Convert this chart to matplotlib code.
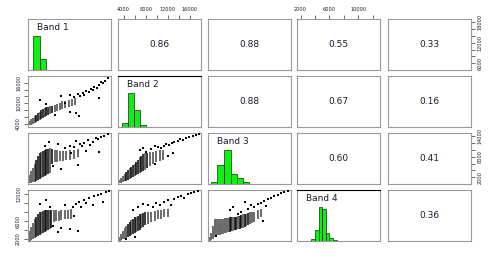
import matplotlib.pyplot as plt
from matplotlib.ticker import FixedLocator

# value range of each band (used for both x and y)
band_names = ["Band 1", "Band 2", "Band 3", "Band 4"]
band_lims = [(4000, 19000), (3000, 18000), (0, 15000), (1500, 13000)]

# histograms on the diagonal: bin edges and relative heights
hist_edges = [
    [4000, 4900, 6100, 7300],
    [3700, 4800, 5900, 7000, 8000],
    [500, 1700, 2900, 4100, 5200, 6300, 7400],
    [3500, 4000, 4500, 5000, 5500, 6000, 6500, 7000],
]
hist_heights = [
    [0.01, 1.0, 0.32],
    [0.12, 1.0, 0.5, 0.06],
    [0.06, 0.57, 1.0, 0.29, 0.17, 0.06],
    [0.06, 0.32, 1.0, 0.94, 0.24, 0.09, 0.03],
]

# correlations in the upper panels, (row, col) -> text
corr = {(0, 1): "0.86", (0, 2): "0.88", (0, 3): "0.55", (0, 4): "0.33",
        (1, 2): "0.88", (1, 3): "0.67", (1, 4): "0.16",
        (2, 3): "0.60", (2, 4): "0.41",
        (3, 4): "0.36"}

# scatter panels: dense vertical streaks (x, y_low, y_high, dense) and loose points (x, y)
stripes_21 = [(4300, 3450, 4800, 0), (4600, 3600, 5250, 0), (4900, 3750, 5700, 0),
              (5200, 4050, 6150, 0), (5500, 4350, 6600, 1), (5800, 4650, 7050, 1),
              (6100, 4950, 7500, 0), (6400, 5250, 7950, 1), (6700, 5550, 8250, 1),
              (7000, 5850, 8550, 0), (7300, 6150, 8850, 1), (7600, 6450, 9000, 1),
              (7900, 6750, 9150, 0), (8350, 7200, 9300, 1), (8800, 7500, 9600, 0),
              (9250, 7650, 9900, 0), (9700, 7950, 10200, 0), (10150, 8250, 10500, 0),
              (10750, 8550, 10650, 0), (11350, 8850, 10950, 0), (11950, 9300, 11250, 0),
              (12550, 9600, 11550, 0)]
points_21 = [(6100, 10800), (7300, 9750), (8800, 6600), (10000, 12000), (11500, 12300),
             (12250, 11700), (13000, 12600), (13450, 12000), (13900, 12900), (14500, 13500),
             (14950, 13200), (15400, 14100), (16000, 14700), (16450, 14400), (16900, 15300),
             (17500, 15900), (17950, 16500), (18400, 17400), (16750, 11400), (12700, 7200),
             (13300, 6300), (11500, 7500), (10600, 10200), (14200, 12300), (15700, 13800),
             (17200, 16200)]

stripes_31 = [(4300, 150, 2700, 0), (4600, 300, 3750, 0), (4900, 450, 4800, 0),
              (5200, 600, 6000, 0), (5500, 900, 7200, 1), (5800, 1200, 8250, 1),
              (6100, 1500, 9000, 1), (6400, 1800, 9450, 0), (6700, 2100, 9750, 1),
              (7000, 2400, 10050, 1), (7300, 2700, 10200, 1), (7600, 3000, 10350, 1),
              (7900, 3300, 10500, 0), (8350, 6000, 10200, 1), (8800, 6450, 9900, 0),
              (9250, 6600, 9900, 0), (9700, 6750, 9750, 0), (10300, 6900, 9600, 0),
              (10900, 7050, 9750, 0), (11500, 7200, 9900, 0), (12250, 7500, 10050, 0),
              (13000, 7800, 10200, 0)]
points_31 = [(7000, 11250), (7750, 12300), (8500, 5250), (10000, 4500), (10750, 10500),
             (11500, 11100), (11800, 9000), (12400, 10800), (13000, 5700), (13450, 11700),
             (13750, 11100), (14200, 12000), (14800, 12900), (15250, 11400), (15700, 12300),
             (16300, 13500), (16900, 9300), (17200, 13800), (17800, 14250), (18400, 14700),
             (16600, 13200), (14500, 9600), (9400, 11700), (12700, 12600)]

stripes_32 = [(3300, 150, 1200, 0), (3600, 300, 1800, 0), (3900, 450, 2400, 0),
              (4200, 750, 3000, 0), (4500, 900, 3600, 1), (4800, 1200, 4200, 1),
              (5100, 1500, 4650, 0), (5400, 1800, 5100, 1), (5700, 2100, 5550, 1),
              (6000, 2400, 6000, 0), (6300, 2700, 6600, 1), (6600, 3000, 7200, 1),
              (6900, 3300, 7800, 0), (7200, 3600, 8250, 1), (7500, 3900, 8700, 1),
              (7800, 4200, 9000, 0), (8250, 4800, 9000, 1), (8700, 5400, 9300, 0),
              (9300, 6000, 9450, 0), (9900, 6450, 9600, 0), (10500, 6750, 9900, 0),
              (11100, 7200, 10050, 0)]
points_32 = [(6900, 9900), (7500, 10500), (8100, 9300), (9000, 10200), (9600, 11100),
             (10200, 10800), (10800, 10500), (11250, 11250), (11700, 11700), (12300, 11400),
             (12750, 12000), (13200, 12300), (13800, 12600), (14250, 13200), (14700, 12900),
             (15300, 13500), (15900, 13800), (16500, 14100), (17100, 14400), (17550, 14700),
             (12000, 8250), (12900, 9000), (9750, 6000)]

stripes_41 = [(4300, 1600, 3800, 0), (4600, 1750, 4700, 0), (4900, 1850, 5650, 0),
              (5200, 2100, 6350, 0), (5500, 2300, 7000, 1), (5800, 2550, 7500, 1),
              (6100, 2900, 7950, 1), (6400, 3100, 8150, 0), (6700, 3350, 8300, 1),
              (7000, 3550, 8400, 1), (7300, 3800, 8400, 1), (7600, 4050, 8500, 1),
              (7900, 4250, 8500, 0), (8200, 4500, 8400, 1), (8650, 5850, 8400, 0),
              (9100, 6100, 8400, 0), (9550, 6100, 8300, 0), (10000, 6200, 8400, 0),
              (10600, 6350, 8400, 0), (11200, 6450, 8500, 0), (11800, 6550, 8650, 0)]
points_41 = [(6100, 9800), (7300, 10700), (7900, 9100), (8500, 4950), (9400, 3550),
             (10000, 4400), (10600, 9550), (11500, 4250), (12100, 9100), (12700, 9800),
             (13000, 3800), (13300, 10250), (13600, 9100), (14200, 10700), (14500, 10000),
             (15100, 11150), (15700, 9550), (16000, 11600), (16600, 11850), (17200, 12100),
             (17500, 10250), (18100, 12550), (18700, 12750), (12400, 7250)]

stripes_42 = [(3300, 1600, 2400, 0), (3600, 1750, 3100, 0), (3900, 1850, 3800, 0),
              (4200, 1950, 4400, 0), (4500, 2200, 4950, 0), (4800, 2400, 5400, 1),
              (5100, 2650, 5850, 1), (5400, 2900, 6200, 0), (5700, 3000, 6550, 1),
              (6000, 3250, 6800, 1), (6300, 3450, 7000, 0), (6600, 3700, 7250, 1),
              (6900, 4050, 7500, 1), (7200, 4400, 7700, 0), (7500, 4700, 7800, 1),
              (7950, 5050, 7950, 1), (8400, 5400, 8050, 0), (9000, 5850, 8150, 0),
              (9600, 6100, 8300, 0), (10200, 6350, 8400, 0), (10800, 6550, 8500, 0),
              (11400, 6800, 8650, 0), (12000, 7000, 8750, 0)]
points_42 = [(5700, 8400), (6600, 9100), (7500, 9800), (8400, 9550), (9300, 9100),
             (9900, 10000), (10500, 9550), (11250, 10250), (12000, 10700), (12600, 9550),
             (13200, 10950), (13800, 11400), (14400, 11600), (15000, 11150), (15600, 12100),
             (16200, 12300), (16800, 12550), (17400, 12750), (6000, 2400), (4500, 1950)]

stripes_43 = [(300, 1600, 2400, 0), (600, 1750, 3250, 0), (900, 1950, 4950, 0),
              (1200, 2300, 6350, 0), (1500, 2650, 6450, 0), (1800, 2750, 6450, 0),
              (2100, 2900, 6550, 0), (2400, 3000, 6550, 0), (2700, 3100, 6550, 0),
              (3000, 3250, 6650, 0), (3300, 3350, 6650, 0), (3600, 3450, 6650, 0),
              (3900, 3550, 6800, 1), (4200, 3700, 6800, 1), (4500, 3800, 6900, 0),
              (4800, 3900, 7000, 1), (5100, 4050, 7000, 1), (5400, 4150, 7150, 0),
              (5700, 4250, 7250, 1), (6000, 4400, 7350, 1), (6300, 4500, 7500, 0),
              (6600, 4700, 7600, 1), (6900, 4950, 7700, 0), (7200, 5200, 7800, 1),
              (7500, 5400, 7950, 0), (7950, 5650, 8050, 0), (8400, 5850, 8150, 0),
              (9000, 6350, 8400, 0), (9600, 7000, 8650, 0)]
points_43 = [(1500, 2650), (3900, 8400), (4500, 9100), (5400, 7700), (6000, 8150),
             (6600, 10250), (7200, 8650), (7800, 9550), (8400, 9100), (9000, 9800),
             (9600, 10000), (10200, 10450), (10500, 9300), (10800, 10950), (11400, 11150),
             (12000, 11600), (12600, 11850), (13200, 12300), (13800, 12550), (14400, 12750),
             (9900, 6100)]

scatter_panels = {(1, 0): (stripes_21, points_21), (2, 0): (stripes_31, points_31),
                  (2, 1): (stripes_32, points_32), (3, 0): (stripes_41, points_41),
                  (3, 1): (stripes_42, points_42), (3, 2): (stripes_43, points_43)}

# outer axes: (row, col, side, major ticks with labels, all tick marks)
outer_axes = [
    (0, 1, "top", [4000, 8000, 12000, 16000], range(4000, 16001, 2000)),
    (0, 3, "top", [2000, 6000, 10000], range(2000, 12001, 2000)),
    (0, 4, "right", [6000, 12000, 18000], range(6000, 18001, 2000)),
    (1, 0, "left", [4000, 10000, 16000], range(4000, 16001, 2000)),
    (2, 4, "right", [2000, 8000, 14000], range(2000, 14001, 2000)),
    (3, 0, "left", [2000, 6000, 12000], range(2000, 12001, 2000)),
]

W, H = 492, 258
col_left = [28, 118, 208, 297, 388]
row_top = [19, 76, 133, 190]
pw, ph = 83, 51
txt = "#1a1a33"

fig = plt.figure(figsize=(W / 100, H / 100), dpi=100)
axes = {}
for r in range(4):
    for c in range(5):
        ax = fig.add_axes([col_left[c] / W, 1 - (row_top[r] + ph) / H, pw / W, ph / H])
        ax.set_xticks([])
        ax.set_yticks([])
        for s in ax.spines.values():
            s.set_color("#999999")
            s.set_linewidth(0.8)
        axes[(r, c)] = ax
        if r == c:
            ax.set_xlim(band_lims[c])
            ax.set_ylim(0, 1.5)
            e = hist_edges[c]
            ax.bar(e[:-1], hist_heights[c], width=[b - a for a, b in zip(e[:-1], e[1:])],
                   align="edge", color="#11ee11", edgecolor="#003300", linewidth=0.5)
            ax.text(0.11, 0.84, band_names[c], transform=ax.transAxes, fontsize=6.5,
                    ha="left", va="center", color=txt)
        elif c > r:
            ax.text(0.5, 0.5, corr[(r, c)], transform=ax.transAxes, fontsize=6.5,
                    ha="center", va="center", color=txt)
            if c < 4:
                ax.set_xlim(band_lims[c])
            ax.set_ylim(band_lims[r])
        else:
            ax.set_xlim(band_lims[c])
            ax.set_ylim(band_lims[r])
            stripes, pts = scatter_panels[(r, c)]
            for x, lo, hi, dense in stripes:
                if dense:
                    ax.vlines(x, lo, hi, colors="#0a0a0a", linewidth=1.15, zorder=3)
                else:
                    ax.vlines(x, lo, hi, colors="#6a6a6a", linewidth=1.4, zorder=2)
            ax.scatter([p[0] for p in pts], [p[1] for p in pts], s=0.8, marker="s",
                       color="black", linewidths=0, zorder=4)

axes[(1, 1)].spines["top"].set_color("black")
axes[(3, 3)].spines["top"].set_color("black")

for r, c, side, major, allt in outer_axes:
    ax = axes[(r, c)]
    if side == "top":
        ax.set_xlim(band_lims[c])
        ax.xaxis.set_ticks_position("top")
        ax.set_xticks(major)
        ax.xaxis.set_minor_locator(FixedLocator([t for t in allt if t not in major]))
        ax.tick_params(axis="x", which="both", top=True, bottom=False, length=3,
                       width=0.5, color="#333333", labelsize=3.6, labelcolor=txt, pad=2)
    else:
        ax.set_ylim(band_lims[r])
        ax.yaxis.set_ticks_position(side)
        ax.set_yticks(major)
        ax.yaxis.set_minor_locator(FixedLocator([t for t in allt if t not in major]))
        ax.tick_params(axis="y", which="both", length=3, width=0.5, color="#333333",
                       labelsize=3.6, labelcolor=txt, pad=2, labelrotation=90)
        for lab in ax.get_yticklabels():
            lab.set_va("center")

plt.savefig("out.png", dpi=100)
